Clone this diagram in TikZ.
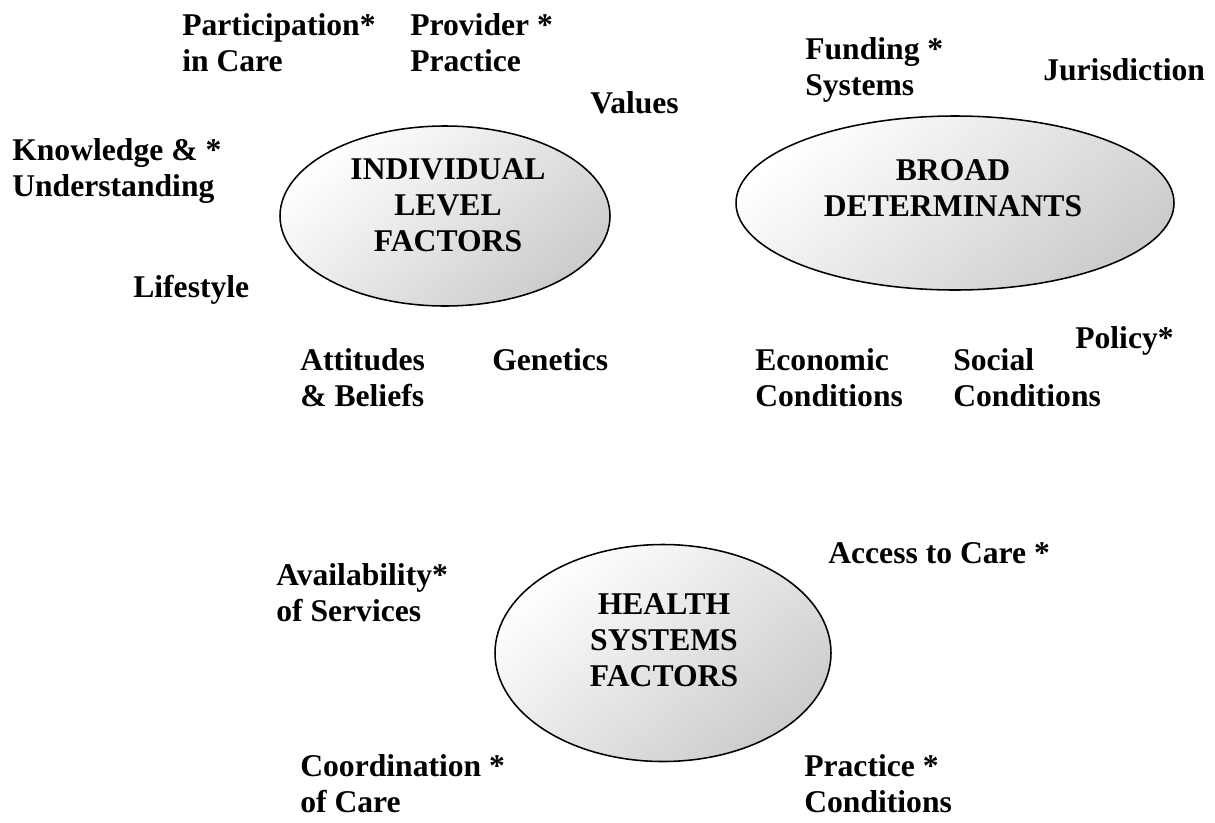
\documentclass[tikz,border=0pt]{standalone}
\usepackage{fontspec}
\setmainfont{Liberation Serif}
\usetikzlibrary{shapes.geometric}

\begin{document}
\begin{tikzpicture}[
        font=\fontsize{22.5}{25.6}\selectfont\bfseries,
        factor/.style={
            ellipse,
            draw=black,
            line width=1.1pt,
            inner sep=0pt,
            shading=axis,
            top color=white,
            bottom color=gray!40,
            shading angle=40
        },
        heading/.style={align=center, inner sep=0pt},
        item/.style={align=left, anchor=base west, inner sep=0pt}
    ]
        \useasboundingbox (0,0) rectangle (30.375,-20.55);

        % The three groups of factors
        \node[factor, minimum width=8.25cm, minimum height=4.5cm]
            (indiv) at (11.125,-5.4) {};
        \node[factor, minimum width=10.95cm, minimum height=4.35cm]
            (broad) at (23.875,-5.075) {};
        \node[factor, minimum width=8.4cm, minimum height=5.425cm]
            (health) at (16.575,-16.325) {};

        \node[heading] (indivtext) at (11.2,-5.125)
            {INDIVIDUAL\\LEVEL\\FACTORS};
        \node[heading] (broadtext) at (23.825,-4.7125)
            {BROAD\\DETERMINANTS};
        \node[heading] (healthtext) at (16.6,-16.0)
            {HEALTH\\SYSTEMS\\FACTORS};

        % Individual level (items sit on the baseline of their last line)
        \node[item] (particip) at (4.55,-1.775) {Participation*\\in Care};
        \node[item] (provider) at (10.25,-1.775) {Provider *\\Practice};
        \node[item] (values) at (14.75,-2.825) {Values};
        \node[item] (knowledge) at (0.3,-4.9) {Knowledge \& *\\Understanding};
        \node[item] (lifestyle) at (3.325,-7.425) {Lifestyle};
        \node[item] (attitudes) at (7.5,-10.15) {Attitudes\\\& Beliefs};
        \node[item] (genetics) at (12.3,-9.25) {Genetics};

        % Broad determinants
        \node[item] (funding) at (20.125,-2.375) {Funding *\\Systems};
        \node[item] (jurisdiction) at (26.075,-2.0) {Jurisdiction};
        \node[item] (economic) at (18.875,-10.15) {Economic\\Conditions};
        \node[item] (social) at (23.825,-10.15) {Social\\Conditions};
        \node[item] (policy) at (26.875,-8.7) {Policy*};

        % Health systems
        \node[item] (availability) at (6.9,-15.525) {Availability*\\of Services};
        \node[item] (access) at (20.7,-14.075) {Access to Care *};
        \node[item] (coordination) at (7.5,-20.3) {Coordination *\\of Care};
        \node[item] (practcond) at (20.1,-20.3) {Practice *\\Conditions};
    \end{tikzpicture}
\end{document}
